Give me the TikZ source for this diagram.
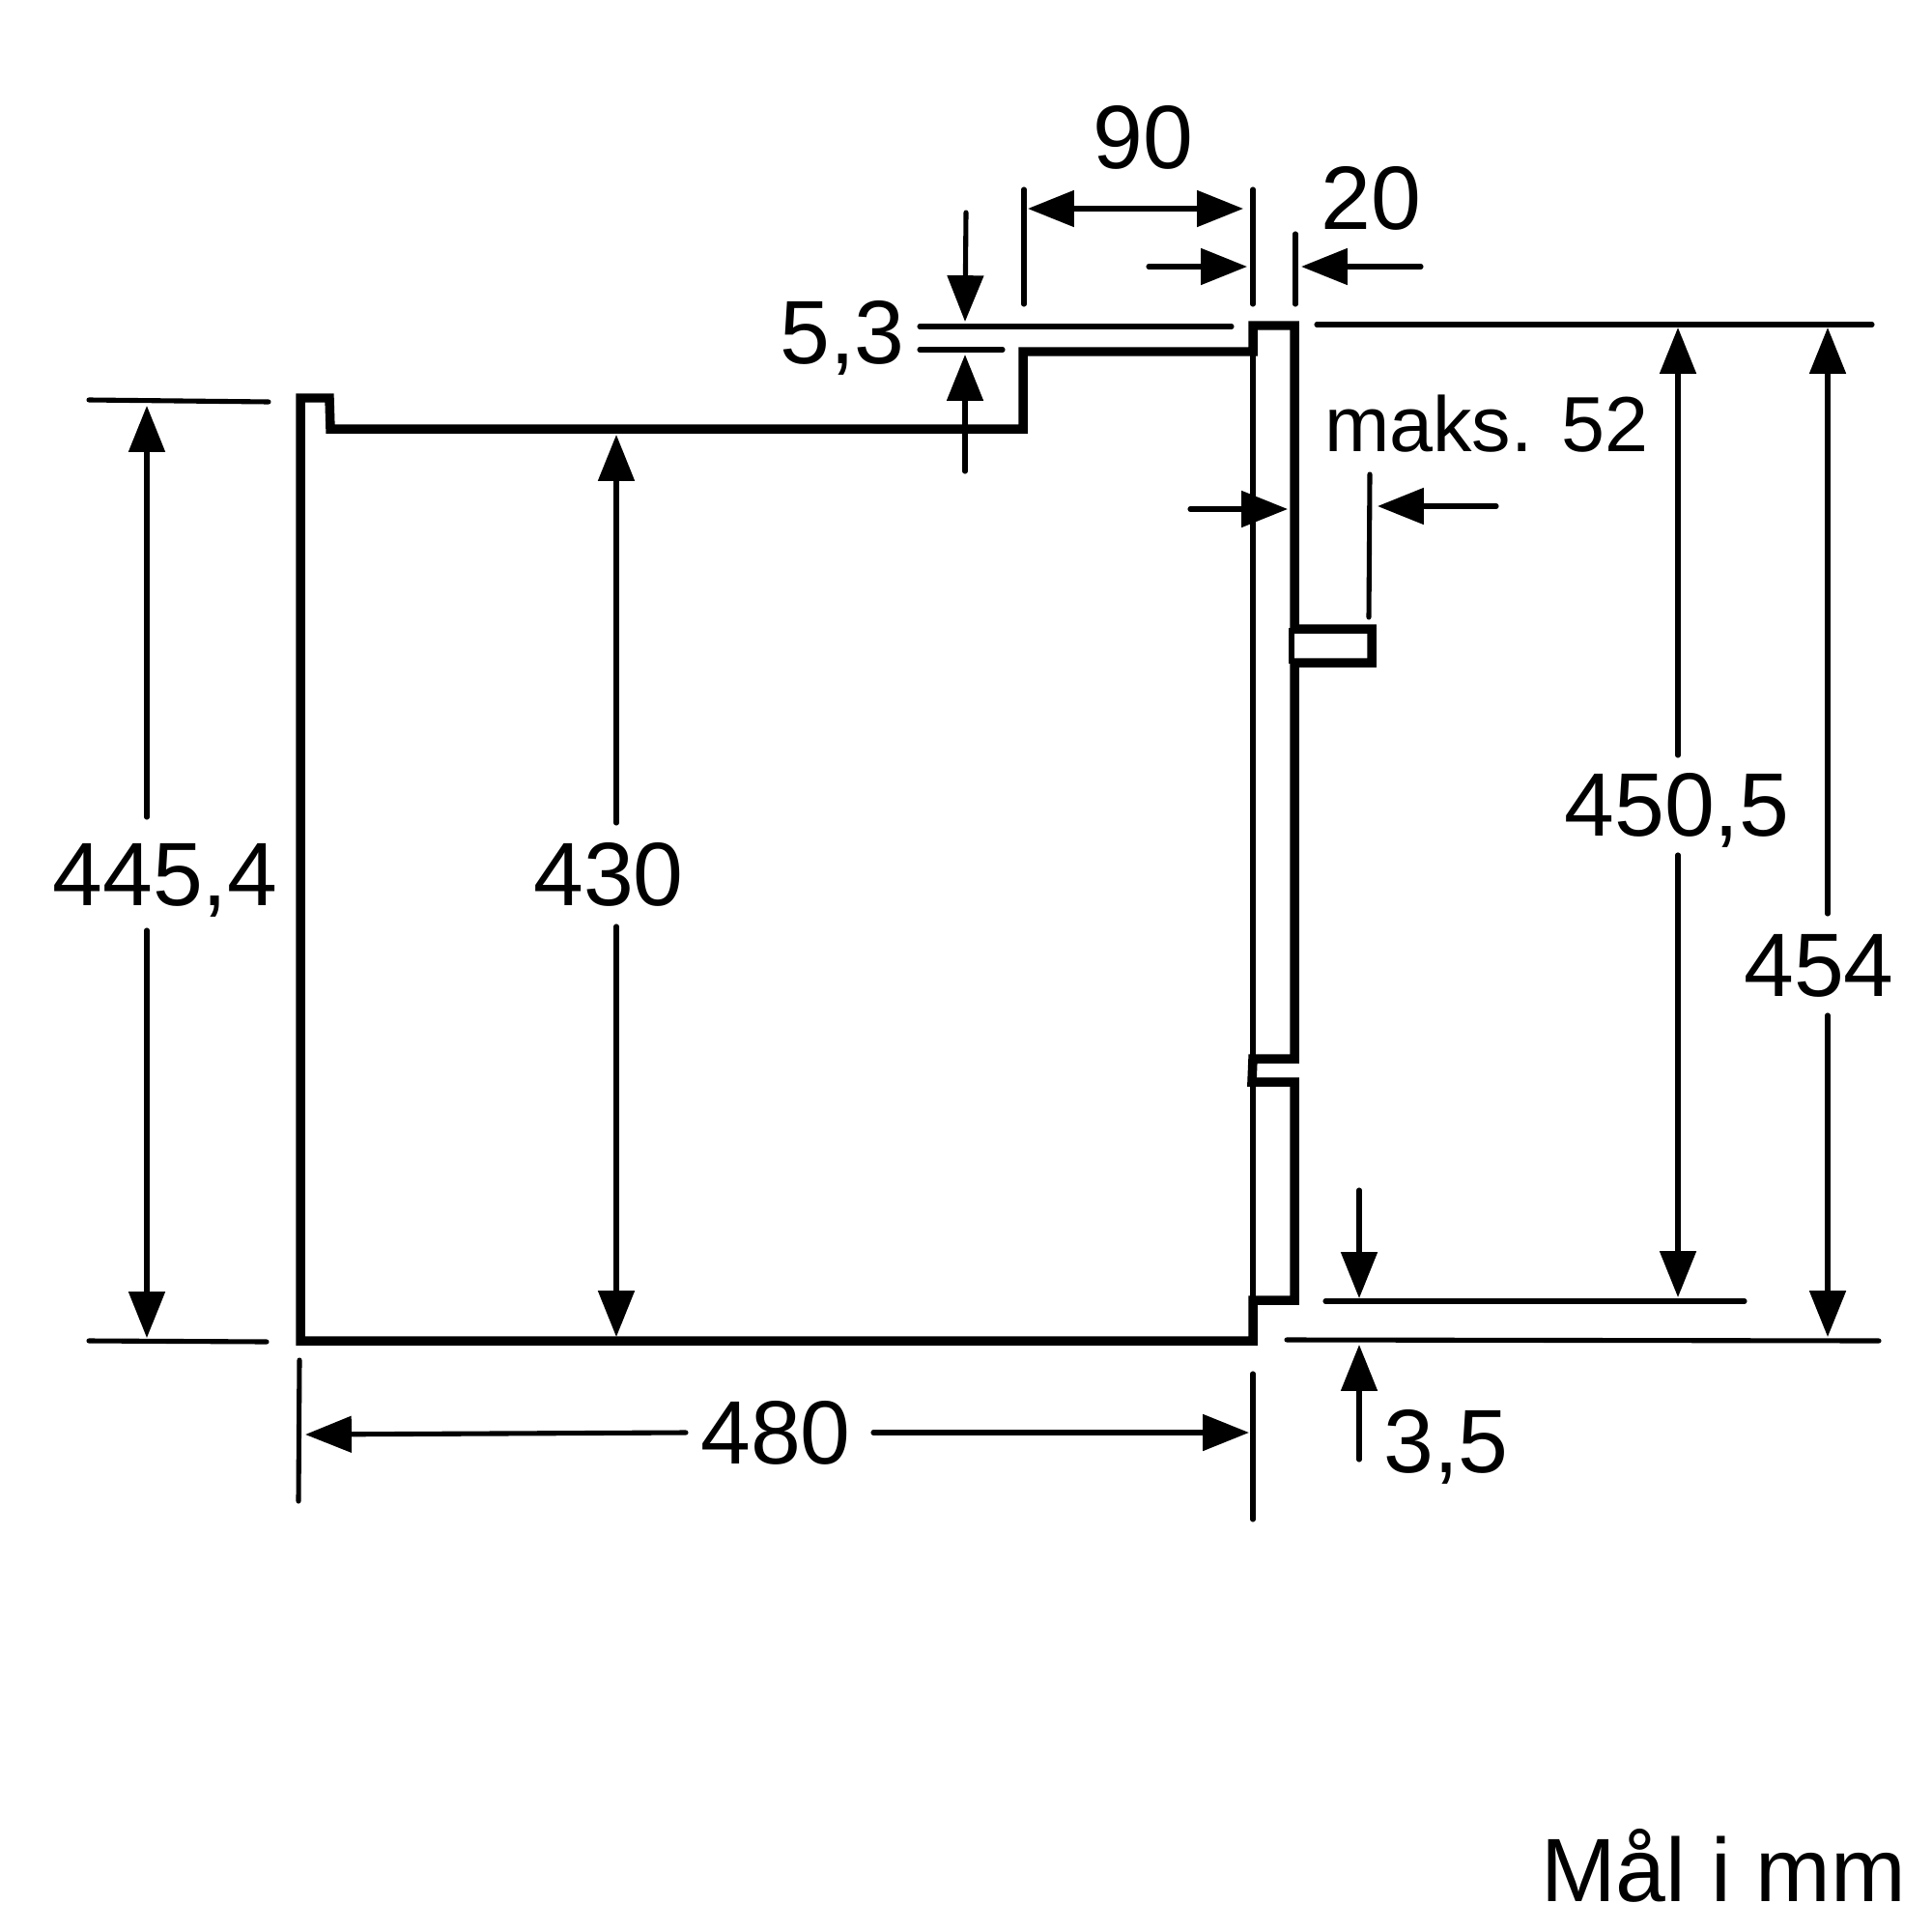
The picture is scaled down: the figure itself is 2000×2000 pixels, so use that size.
\documentclass[tikz,border=0pt]{standalone}
\usepackage{fontspec}
\setmainfont{Liberation Sans}
\usetikzlibrary{arrows.meta}

\begin{document}
\begin{tikzpicture}
  [x=.01cm,y=-.01cm,
   every node/.style={inner sep=0pt,anchor=base,font=\fontsize{26.5pt}{27pt}\selectfont},
   wall/.style={line width=2.7pt,miter limit=10},
   inner/.style={line width=1.7pt},
   thin/.style={line width=1.45pt,line cap=round},
   dim/.style={thin,-{Triangle[length=13.6pt,width=10.5pt]}},
   dimdim/.style={thin,{Triangle[length=13.6pt,width=10.5pt]}-{Triangle[length=13.6pt,width=10.5pt]}}]
  \useasboundingbox (0,0) rectangle (2000,2000);

  \node (l90) at (1183,175) {90};
  \node (l20) at (1419,238) {20};
  \node (l53) at (872,376) {5,3};
  \node (l4454) at (171,937) {445,4};
  \node (l430) at (630,937) {430};
  \node (l480) at (803,1515) {480};
  \node (l35) at (1497,1524) {3,5};
  \node (l4505) at (1736,865) {450,5};
  \node (l454) at (1883,1031) {454};
  \node [font=\fontsize{23pt}{23pt}\selectfont] (lmaks) at (1539,467) {maks. 52};
  \node (lmaal) at (1784,1968) {Mål i mm};

  % extension lines
  \foreach \from/\fx/\fy/\to/\tx/\ty in {
    e1a/92/414/e1b/278/416,e2a/92/1388/e2b/276/1389,
    e3a/310/1408/e3b/309/1554,e4a/1297/1422/e4b/1297/1573,
    e5a/1060/196/e5b/1060/315,e6a/1297/196/e6b/1297/315,e7a/1341/242/e7b/1341/315,
    e8a/952/338/e8b/1275/338,e9a/952/362/e9b/1038/362,
    e10a/1363/336/e10b/1938/336,e11a/1372/1347/e11b/1806/1347,
    e12a/1332/1387/e12b/1945/1388,e13a/1418/491/e13b/1417/639}
    \draw [thin] (\fx,\fy) coordinate (\from) -- (\tx,\ty) coordinate (\to);

  % dimension arrows
  \foreach \from/\fx/\fy/\to/\tx/\ty in {
    a1a/152/846/a1b/152/420,a2a/152/963/a2b/152/1385,
    a3a/638/852/a3b/638/450,a4a/638/959/a4b/638/1384,
    a5a/710/1483/a5b/316/1485,a6a/904/1483/a6b/1293/1483,
    a7a/1189/276/a7b/1291/276,a8a/1471/276/a8b/1347/276,
    a9a/1000/220/a9b/999/333,a10a/999/488/a10b/999/367,
    a11a/1737/782/a11b/1737/339,a12a/1737/885/a12b/1737/1343,
    a13a/1892/946/a13b/1892/339,a14a/1892/1051/a14b/1892/1384,
    a15a/1407/1232/a15b/1407/1344,a16a/1407/1511/a16b/1407/1392,
    a17a/1232/527/a17b/1333/527,a18a/1549/524/a18b/1426/524}
    \draw [dim] (\fx,\fy) coordinate (\from) -- (\tx,\ty) coordinate (\to);
  \coordinate (w90a) at (1064,216);
  \coordinate (w90b) at (1287,216);
  \draw [dimdim] (w90a) -- (w90b);

  % housing
  \draw [inner] (1297,363) coordinate (c1) -- (1297,1388) coordinate (c2);
  \draw [inner] (1337,650) coordinate (c3) -- (1337,687) coordinate (c4);
  \draw [wall] (311,1388) -- (311,412) -- (341,412) -- (342,444) -- (1059,444)
    -- (1059,364) -- (1297,364) -- (1297,337) -- (1340,337) -- (1340,651)
    -- (1420,651) -- (1420,686) -- (1340,686) -- (1340,1096) -- (1297,1096)
    -- (1296,1120) -- (1340,1120) -- (1340,1346) -- (1297,1346) -- (1297,1388) -- cycle;
\end{tikzpicture}
\end{document}
